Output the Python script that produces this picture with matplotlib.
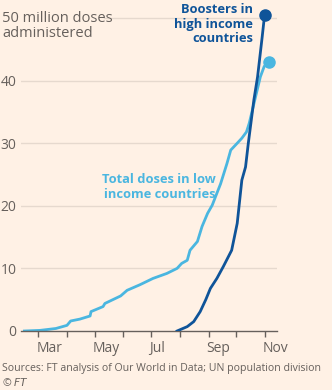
import pandas as pd
import matplotlib.pyplot as plt
from matplotlib.transforms import ScaledTranslation

# ─── Data ─────────────────────────────────────────────────────────────────────

low_dates = ['2021-02-14', '2021-03-03', '2021-03-20', '2021-04-01', '2021-04-05',
             '2021-04-15', '2021-04-26', '2021-04-27', '2021-05-10', '2021-05-12',
             '2021-05-29', '2021-06-05', '2021-06-19', '2021-07-03', '2021-07-18',
             '2021-07-29', '2021-08-03', '2021-08-09', '2021-08-12', '2021-08-20',
             '2021-08-25', '2021-08-31', '2021-09-05', '2021-09-10', '2021-09-14',
             '2021-09-21', '2021-09-25', '2021-10-02', '2021-10-07', '2021-10-12',
             '2021-10-15', '2021-10-27', '2021-10-31']
low_values = [0, 0.1, 0.4, 0.9, 1.6,
              1.9, 2.4, 3.1, 3.9, 4.4,
              5.6, 6.5, 7.4, 8.4, 9.2,
              10.0, 10.8, 11.3, 12.9, 14.3,
              16.7, 18.8, 20.1, 22.0, 23.5,
              26.8, 28.9, 30.0, 30.8, 31.8,
              33.2, 40.6, 42.2]

boost_dates = ['2021-07-29', '2021-08-09', '2021-08-16', '2021-08-23', '2021-08-29',
               '2021-09-03', '2021-09-10', '2021-09-17', '2021-09-26', '2021-10-02',
               '2021-10-07', '2021-10-11', '2021-10-14', '2021-10-20', '2021-10-24',
               '2021-10-29', '2021-10-31']
boost_values = [0, 0.7, 1.5, 3.1, 5.0,
                6.8, 8.4, 10.3, 12.9, 17.2,
                24.1, 26.2, 30.0, 36.9, 40.6,
                47.0, 49.7]

# end-of-line markers
low_dot = ('2021-11-05', 42.9)
boost_dot = ('2021-11-01', 50.5)

month_ticks = ['2021-03-01', '2021-04-01', '2021-05-01', '2021-06-01', '2021-07-01',
               '2021-08-01', '2021-09-01', '2021-10-01', '2021-11-01']
month_labels = ['Mar', '', 'May', '', 'Jul', '', 'Sep', '', 'Nov']
y_ticks = [0, 10, 20, 30, 40]

# ─── Style ────────────────────────────────────────────────────────────────────

BG = '#FFF1E5'
DARK = '#0F5499'
LIGHT = '#4AB6E0'
GREY = '#66605C'
GRID = '#E6D9CE'

plt.rcParams['font.family'] = ['Open Sans', 'DejaVu Sans']

fig = plt.figure(figsize=(3.32, 3.90), dpi=100, facecolor=BG)
ax = fig.add_axes([20.7 / 332, 59 / 390, 256.3 / 332, 325.5 / 390], facecolor=BG)

ax.set_xlim(pd.Timestamp('2021-02-10'), pd.Timestamp('2021-11-14'))
ax.set_ylim(0, 52)

# gridlines
for v in y_ticks[1:]:
    ax.axhline(v, color=GRID, lw=1, zorder=0)
ax.axhline(50, xmin=(104 - 20.7) / 256.3, xmax=1, color=GRID, lw=1, zorder=0)

# lines
ax.plot(pd.to_datetime(low_dates), low_values, color=LIGHT, lw=2, zorder=2,
        solid_joinstyle='round')
ax.plot(pd.to_datetime(boost_dates), boost_values, color=DARK, lw=2, zorder=3,
        solid_joinstyle='round')
ax.plot(pd.Timestamp(low_dot[0]), low_dot[1], 'o', color=LIGHT, ms=8, zorder=4)
ax.plot(pd.Timestamp(boost_dot[0]), boost_dot[1], 'o', color=DARK, ms=8, zorder=4)

# annotations
ax.text(pd.Timestamp('2021-10-19'), 49.0, 'Boosters in\nhigh income\ncountries',
        color=DARK, fontsize=9.3, fontweight='bold', ha='right', va='center',
        linespacing=1.15)
ax.text(pd.Timestamp('2021-09-09'), 23.0, 'Total doses in low\nincome countries',
        color=LIGHT, fontsize=9.3, fontweight='bold', ha='right', va='center',
        linespacing=1.2)

# axes
for s in ['top', 'right', 'left']:
    ax.spines[s].set_visible(False)
ax.spines['bottom'].set_color(GREY)
ax.spines['bottom'].set_linewidth(1)

ax.set_yticks(y_ticks)
ax.set_yticklabels([str(v) for v in y_ticks])
ax.tick_params(axis='y', length=0, pad=3, labelsize=10, labelcolor=GREY)

ax.set_xticks(pd.to_datetime(month_ticks))
ax.set_xticklabels(month_labels)
ax.tick_params(axis='x', length=4, width=1, color=GREY, pad=3, labelsize=10,
               labelcolor=GREY)
offset = ScaledTranslation(-2 / 100, 0, fig.dpi_scale_trans)
for lab in ax.get_xticklabels():
    lab.set_horizontalalignment('left')
    lab.set_transform(lab.get_transform() + offset)

fig.text(2 / 332, 1 - 26 / 390, '50 million doses\nadministered', color=GREY,
         fontsize=10.5, ha='left', va='center', linespacing=1.05)

fig.text(2 / 332, 1 - 369 / 390, 'Sources: FT analysis of Our World in Data; UN population division',
         color=GREY, fontsize=7.6, ha='left', va='center')
fig.text(2 / 332, 1 - 383 / 390, '© $\\it{FT}$', color=GREY, fontsize=7.6,
         ha='left', va='center')

fig.savefig('out.png', dpi=100, facecolor=BG)
